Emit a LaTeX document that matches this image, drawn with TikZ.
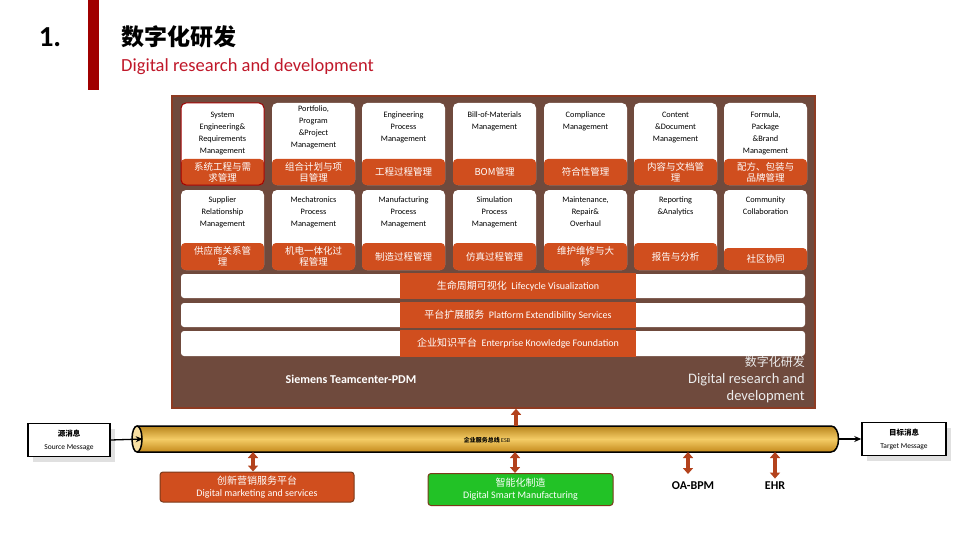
\documentclass[tikz,border=0pt]{standalone}
\usepackage{fontspec}
\setmainfont{Carlito}
\newfontfamily\cjk{Noto Sans CJK SC}
\usetikzlibrary{arrows.meta,shadows,shapes.geometric}
\definecolor{panelc}{HTML}{6F4A3D}
\definecolor{panelb}{HTML}{8E3B22}
\definecolor{tileor}{HTML}{D04E1E}
\definecolor{arrowc}{HTML}{B3421C}
\definecolor{redbar}{HTML}{A00000}
\definecolor{redtxt}{HTML}{C0182A}
\definecolor{goldA}{HTML}{B8841C}
\definecolor{goldB}{HTML}{F4CC66}
\definecolor{goldC}{HTML}{C48A1C}
\definecolor{greenc}{HTML}{22C226}
\definecolor{boxb}{HTML}{7A3A1A}
\tikzset{
  entext/.style={font=\fontsize{8.3}{12}\selectfont, align=center, inner sep=0pt, text=black},
  cntext/.style={font=\cjk\fontsize{9.5}{11}\selectfont, align=center, inner sep=0pt, text=white},
  barwhite/.style={fill=white, rounded corners=3pt},
  barorange/.style={fill=tileor, draw=none, inner sep=0pt, text=white, font=\fontsize{10}{12}\selectfont},
  dbl/.style={draw=arrowc, line width=3.4pt, {Triangle[width=10pt,length=6pt]}-{Triangle[width=10pt,length=6pt]}},
  uparr/.style={draw=arrowc, line width=3.4pt, -{Triangle[width=10pt,length=6pt]}},
  msgbox/.style={draw=black, line width=1.5pt, fill=white, align=center, inner sep=0pt,
    drop shadow={shadow xshift=5pt, shadow yshift=-5pt, fill=black!12, opacity=1}},
  blackarr/.style={draw=black, line width=1.3pt, -{Stealth[length=7pt,width=6pt]}},
}
\newcommand\mytile[8]{%
  \fill[white, rounded corners=5pt] (#2,#3) rectangle ({#2+83},#5);
  \fill[tileor, rounded corners=4pt] (#2,#4) rectangle ({#2+83},#5);
  \node[entext, anchor=north] (#1e) at ({#2+41.5},#6) {#7};
  \node[cntext] (#1c) at ({#2+41.5},{(#4+#5)/2}) {#8};
}
\begin{document}
\begin{tikzpicture}[x=1pt,y=-1pt]
\useasboundingbox (0,0) rectangle (960,540);
\fill[white] (0,0) rectangle (960,540);
% header
\fill[redbar] (88,0) rectangle (99,90);
\node[font=\bfseries\fontsize{29}{32}\selectfont] (num) at (50,37) {1.};
\node[anchor=west, font=\cjk\bfseries\fontsize{23}{28}\selectfont, inner sep=0pt] (title) at (121,37) {数字化研发};
\node[anchor=west, text=redtxt, font=\fontsize{18.5}{22}\selectfont, inner sep=0pt] (subtitle) at (121,67) {Digital research and development};
% panel
\node[fill=panelc, draw=panelb, line width=1.5pt, minimum width=643pt, minimum height=312pt, inner sep=0pt] (panel) at (493.5,252) {};
% row 1
\mytile{a1}{181}{103}{159}{185}{111.5}{System\\Engineering\&\\Requirements\\Management}{系统工程与需\\求管理}
\draw[draw=redbar, line width=1pt, rounded corners=5pt] (181,103) rectangle (264,185);
\mytile{a2}{272}{103}{159}{185}{106}{Portfolio,\\Program\\\&Project\\Management}{组合计划与项\\目管理}
\mytile{a3}{362}{103}{159}{185}{111.5}{Engineering\\Process\\Management}{工程过程管理}
\mytile{a4}{453}{103}{159}{185}{111.5}{Bill-of-Materials\\Management}{BOM管理}
\mytile{a5}{544}{103}{159}{185}{111.5}{Compliance\\Management}{符合性管理}
\mytile{a6}{634}{103}{159}{185}{111.5}{Content\\\&Document\\Management}{内容与文档管\\理}
\mytile{a7}{724}{103}{159}{185}{111.5}{Formula,\\Package\\\&Brand\\Management}{配方、包装与\\品牌管理}
% row 2
\mytile{b1}{181}{190}{243}{270}{196.5}{Supplier\\Relationship\\Management}{供应商关系管\\理}
\mytile{b2}{272}{190}{243}{270}{196.5}{Mechatronics\\Process\\Management}{机电一体化过\\程管理}
\mytile{b3}{362}{190}{243}{270}{196.5}{Manufacturing\\Process\\Management}{制造过程管理}
\mytile{b4}{453}{190}{243}{270}{196.5}{Simulation\\Process\\Management}{仿真过程管理}
\mytile{b5}{544}{190}{243}{270}{196.5}{Maintenance,\\Repair\&\\Overhaul}{维护维修与大\\修}
\mytile{b6}{634}{190}{243}{270}{196.5}{Reporting\\\&Analytics}{报告与分析}
\mytile{b7}{724}{190}{248}{270}{196.5}{Community\\Collaboration}{社区协同}
% bars
\fill[barwhite] (181,274) rectangle (805,298);
\node[barorange, minimum width=236pt, minimum height=26pt] (bar1) at (518,286) {{\cjk 生命周期可视化}\ \ Lifecycle Visualization};
\fill[barwhite] (181,303) rectangle (805,327);
\node[barorange, minimum width=236pt, minimum height=26pt] (bar2) at (518,315) {{\cjk 平台扩展服务}\ \ Platform Extendibility Services};
\fill[barwhite] (181,331) rectangle (805,356);
\node[barorange, minimum width=236pt, minimum height=27pt] (bar3) at (518,343.5) {{\cjk 企业知识平台}\ \ Enterprise Knowledge Foundation};
% panel captions
\node[text=white, font=\bfseries\fontsize{12}{14}\selectfont] (tc) at (351,379) {Siemens Teamcenter-PDM};
\node[anchor=north east, align=right, text=white!92!black, font=\fontsize{14.5}{17}\selectfont, inner sep=0pt] (drd) at (805,356)
  {{\cjk\fontsize{12}{16}\selectfont 数字化研发}\\Digital research and\\development};
% ESB pipe
\shade[top color=goldA, bottom color=goldC, middle color=goldB] (137,426) -- (831,426) .. controls (841,426) and (841,452) .. (831,452) -- (137,452) -- cycle;
\draw[black, line width=1.5pt] (137,426) -- (831,426) .. controls (841,426) and (841,452) .. (831,452) -- (137,452);
\node[draw=black, line width=1.5pt, fill=goldB!60!white, ellipse, minimum width=10pt, minimum height=26pt, inner sep=0pt] (pipeL) at (137,439) {};
\coordinate (pipeR) at (838.5,439);
\node[inner sep=0pt, minimum width=701pt, minimum height=26pt] (pipe) at (487.5,439) {};
\node[font=\fontsize{6}{7}\selectfont, inner sep=0pt] (esb) at (487,440) {{\cjk\bfseries 企业服务总线}\ ESB};
% message boxes
\node[msgbox, minimum width=82pt, minimum height=33pt] (src) at (69,440)
  {{\cjk\bfseries\fontsize{7.5}{9}\selectfont 源消息}\\[1pt]{\fontsize{7.5}{9}\selectfont Source Message}};
\node[msgbox, minimum width=84pt, minimum height=33pt] (tgt) at (904,439)
  {{\cjk\bfseries\fontsize{7.5}{9}\selectfont 目标消息}\\[1pt]{\fontsize{7.5}{9}\selectfont Target Message}};
\draw[blackarr] (src.east) -- (pipeL.east);
\draw[blackarr] (pipeR) -- (tgt.west);
% up arrow to panel
\coordinate (esbup) at (516,426);
\draw[uparr] (esbup) -- (esbup |- panel.south);
% bottom systems
\node[fill=tileor, draw=boxb, line width=1pt, rounded corners=3pt, minimum width=194pt, minimum height=30pt, align=center, text=white, inner sep=0pt] (mkt) at (257,487)
  {{\cjk\fontsize{10}{12}\selectfont 创新营销服务平台}\\{\fontsize{10}{12}\selectfont Digital marketing and services}};
\node[fill=greenc, draw=boxb, line width=1pt, rounded corners=3pt, minimum width=185pt, minimum height=32pt, align=center, text=white, inner sep=0pt] (smf) at (520.5,489.5)
  {{\cjk\fontsize{10}{12}\selectfont 智能化制造}\\{\fontsize{10}{12}\selectfont Digital Smart Manufacturing}};
\node[font=\bfseries\fontsize{12}{14}\selectfont] (oa) at (693,486) {OA-BPM};
\node[font=\bfseries\fontsize{12}{14}\selectfont] (ehr) at (775,486) {EHR};
\draw[dbl] (mkt.north -| 253,0) -- (253,452);
\draw[dbl] (smf.north -| 515,0) -- (515,452);
\draw[dbl] (688,474) -- (688,452);
\draw[dbl] (ehr.north -| 775,0) -- (775,452);
\end{tikzpicture}
\end{document}
